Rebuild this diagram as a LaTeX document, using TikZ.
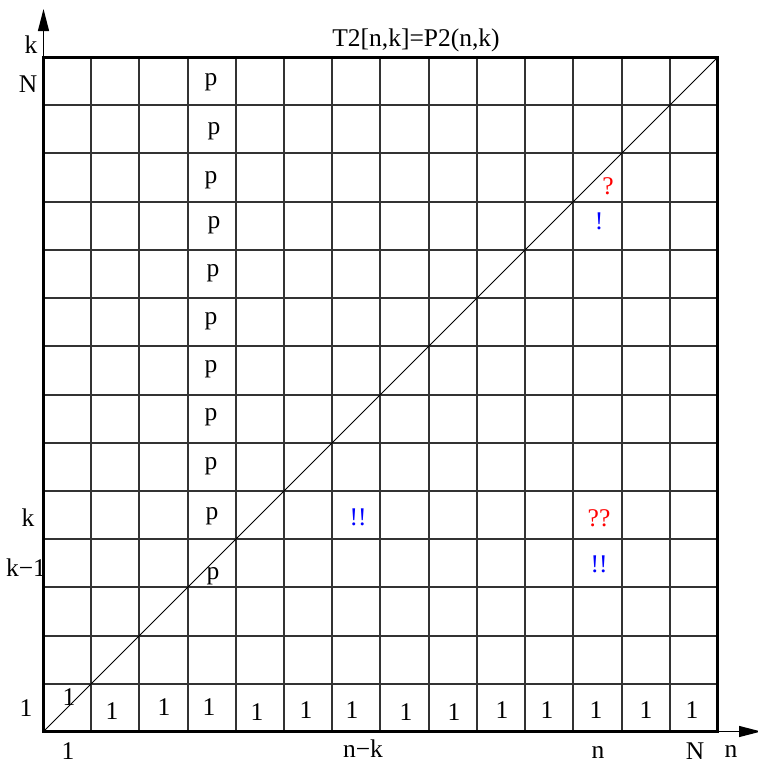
\documentclass[tikz,border=0pt]{standalone}
\usepackage{fontspec}
\setmainfont{Liberation Serif}
\usetikzlibrary{arrows.meta}
\begin{document}
\begin{tikzpicture}[x=1pt,y=-1pt,
  gridline/.style={line width=2pt,black!80},
  diag/.style={line width=0.9pt,black},
  frame/.style={line width=3pt,black},
  axis/.style={line width=1.2pt,black,-{Triangle[length=22pt,width=11pt]}},
  lbl/.style={inner sep=0pt,font=\fontsize{25.5}{30}\selectfont},
  redm/.style={lbl,text=red},
  bluem/.style={lbl,text=blue}]
\useasboundingbox (0,0) rectangle (758,764);
\coordinate (O) at (43.5,731.5);
\coordinate (TR) at (717.5,57.5);
\coordinate (ytip) at (43.5,9);
\coordinate (xtip) at (761,731.5);
% grid
\foreach \i in {1,...,13} {
  \draw[gridline] ({round(43+48.21*\i)},57) -- ({round(43+48.21*\i)},732);
  \draw[gridline] (43,{round(732-48.21*\i)}) -- (718,{round(732-48.21*\i)});
}
\draw[frame] (O) rectangle (TR);
\draw[diag] (O) -- (TR);
% axes
\draw[axis] (O) -- (ytip);
\draw[axis] (O) -- (xtip);
% title and axis labels
\node[lbl] (title) at (416,40) {T2[n,k]=P2(n,k)};
\node[lbl] (kax) at (31,45) {k};
\node[lbl] (Ntop) at (28,84) {N};
\node[lbl] (kleft) at (28,518) {k};
\node[lbl] (km1) at (26,568) {k\textminus1};
\node[lbl] (oneleft) at (26,708) {1};
\node[lbl] (onebot) at (68,751) {1};
\node[lbl] (nmk) at (363,749) {n\textminus k};
\node[lbl] (nbot) at (598,752) {n};
\node[lbl] (Nbot) at (695,751) {N};
\node[lbl] (nax) at (731,751) {n};
% p column
\foreach \px/\py [count=\j] in {211/82,214/131,211/180,214/225,213/273,211/321,211/369,211/417,211/466,212/516,213/576} {
  \node[lbl] (p\j) at (\px,\py) {p};
}
% bottom row of ones
\foreach \ox/\oy [count=\j] in {69/697,112/711,164/707,209/707,257/712,306/710,352/710,406/712,454/712,502/710,547/710,596/710,646/710,692/710} {
  \node[lbl] (one\j) at (\ox,\oy) {1};
}
% marks
\node[redm] (q1) at (608,186) {?};
\node[bluem] (e1) at (599,221) {!};
\node[bluem] (e2) at (358,517) {!!};
\node[redm] (q2) at (599,518) {??};
\node[bluem] (e3) at (599,564) {!!};
\end{tikzpicture}
\end{document}
